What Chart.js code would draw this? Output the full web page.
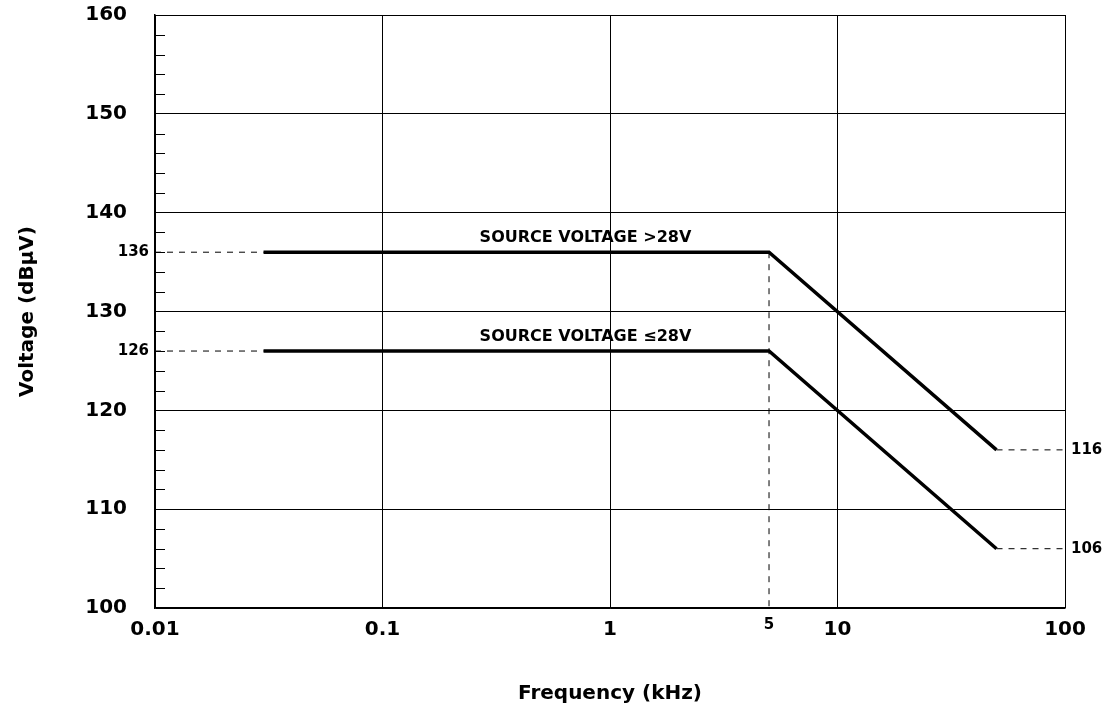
<!DOCTYPE html>
<html>
<head>
<meta charset="utf-8">
<script src="https://cdn.jsdelivr.net/npm/chart.js@4"></script>
<style>
  body { margin: 0; background: #fff; }
  #wrap { width: 1109px; height: 710px; }
</style>
</head>
<body>
<div id="wrap"><canvas id="c"></canvas></div>
<script>
const xTicks = [0.01, 0.1, 1, 10, 100];
const yTicks = [100, 110, 120, 130, 140, 150, 160];
const highFreq = [0.03, 5, 50];
const highVolt = [136, 136, 116];
const lowFreq = [0.03, 5, 50];
const lowVolt = [126, 126, 106];
const highLabel = 'SOURCE VOLTAGE >28V';
const lowLabel = 'SOURCE VOLTAGE \u226428V';
const valueLabels = [
  { x: 0.01, y: 136, text: '136', side: 'left' },
  { x: 0.01, y: 126, text: '126', side: 'left' },
  { x: 100, y: 116, text: '116', side: 'right' },
  { x: 100, y: 106, text: '106', side: 'right' }
];

const FONT = '"DejaVu Sans", sans-serif';
const pts = (xs, ys) => xs.map((x, i) => ({ x: x, y: ys[i] }));

const dashed = (data) => ({
  data: data, borderColor: '#000', borderWidth: 1, borderDash: [6, 6],
  pointRadius: 0, fill: false
});

const extras = {
  id: 'extras',
  afterDatasetsDraw(chart) {
    const { ctx, scales: { x, y }, chartArea } = chart;
    ctx.save();
    // minor ticks on the y axis
    ctx.strokeStyle = '#000';
    ctx.lineWidth = 1;
    for (let v = 102; v < 160; v += 2) {
      if (v % 10 === 0) continue;
      const py = Math.round(y.getPixelForValue(v)) + 0.5;
      ctx.beginPath();
      ctx.moveTo(chartArea.left, py);
      ctx.lineTo(chartArea.left + 10, py);
      ctx.stroke();
    }
    ctx.fillStyle = '#000';
    ctx.font = 'bold 15px ' + FONT;
    ctx.textBaseline = 'middle';
    valueLabels.forEach(l => {
      const py = y.getPixelForValue(l.y);
      if (l.side === 'left') {
        ctx.textAlign = 'right';
        ctx.fillText(l.text, x.getPixelForValue(l.x) - 6, py);
      } else {
        ctx.textAlign = 'left';
        ctx.fillText(l.text, x.getPixelForValue(l.x) + 6, py);
      }
    });
    ctx.font = 'bold 16px ' + FONT;
    ctx.textAlign = 'center';
    ctx.textBaseline = 'bottom';
    ctx.fillText(highLabel, x.getPixelForValue(0.78), y.getPixelForValue(136) - 6);
    ctx.fillText(lowLabel, x.getPixelForValue(0.78), y.getPixelForValue(126) - 6);
    ctx.font = 'bold 15px ' + FONT;
    ctx.textBaseline = 'top';
    ctx.fillText('5', x.getPixelForValue(5), chartArea.bottom + 10);
    ctx.restore();
  }
};

new Chart(document.getElementById('c'), {
  type: 'line',
  data: {
    datasets: [
      { data: pts(highFreq, highVolt), borderColor: '#000', borderWidth: 3.5, pointRadius: 0, fill: false },
      { data: pts(lowFreq, lowVolt), borderColor: '#000', borderWidth: 3.5, pointRadius: 0, fill: false },
      dashed(pts([0.01, highFreq[0]], [136, 136])),
      dashed(pts([0.01, lowFreq[0]], [126, 126])),
      dashed(pts([5, 5], [136, 100])),
      dashed(pts([50, 100], [116, 116])),
      dashed(pts([50, 100], [106, 106]))
    ]
  },
  options: {
    responsive: true,
    maintainAspectRatio: false,
    animation: false,
    layout: { padding: { left: 12, right: 44, top: 15, bottom: 0 } },
    plugins: { legend: { display: false }, tooltip: { enabled: false } },
    scales: {
      x: {
        type: 'logarithmic', min: 0.01, max: 100,
        afterBuildTicks: s => { s.ticks = xTicks.map(v => ({ value: v })); },
        afterFit: s => { s.height = 102; s.paddingLeft = 0; s.paddingRight = 0; },
        ticks: {
          color: '#000', font: { family: FONT, size: 20, weight: 'bold' }, padding: 10,
          maxRotation: 0, callback: v => String(v)
        },
        grid: { color: '#000', lineWidth: 1, drawTicks: false },
        border: { color: '#000', width: 1.5 },
        title: { display: true, text: 'Frequency (kHz)', color: '#000', font: { family: FONT, size: 20, weight: 'bold' }, padding: { top: 16 } }
      },
      y: {
        min: 100, max: 160,
        afterBuildTicks: s => { s.ticks = yTicks.map(v => ({ value: v })); },
        afterFit: s => { s.width = 143; s.paddingTop = 0; s.paddingBottom = 0; },
        ticks: { color: '#000', font: { family: FONT, size: 20, weight: 'bold' }, padding: 28 },
        grid: { color: '#000', lineWidth: 1, drawTicks: false },
        border: { color: '#000', width: 1.5 },
        title: { display: true, text: 'Voltage (dB\u00b5V)', color: '#000', font: { family: FONT, size: 20, weight: 'bold' }, padding: { bottom: 4 } }
      }
    }
  },
  plugins: [extras]
});
</script>
</body>
</html>
